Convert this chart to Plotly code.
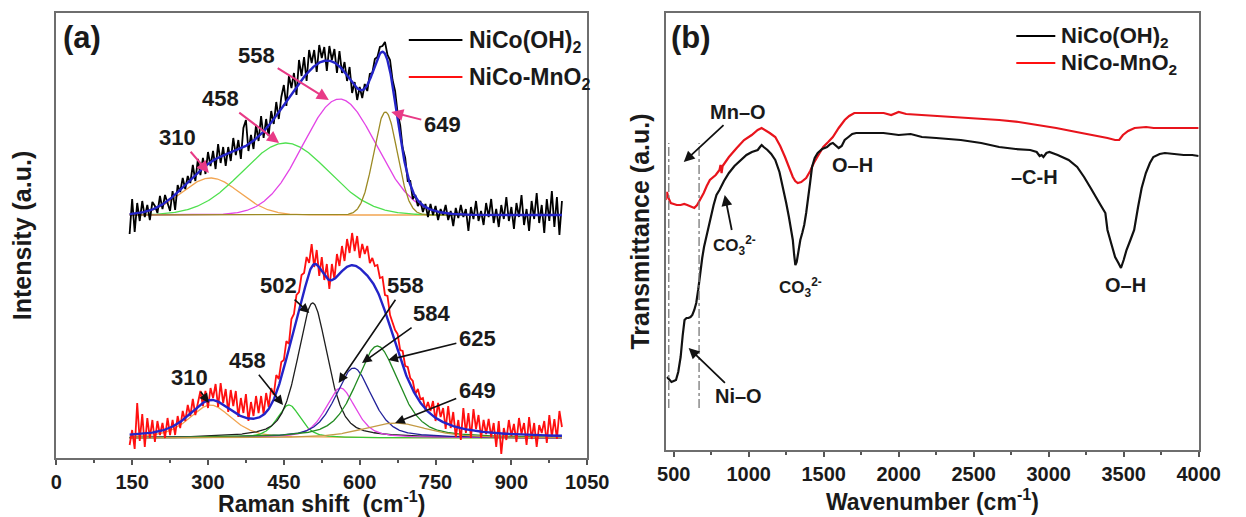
import numpy as np
import plotly.graph_objects as go

W, H = 1246, 517

# ---------------- (a) Raman data ----------------
raman_shift = list(range(145, 1001, 5))
raman_nico_oh = [
    -19, 16, -17, 12, -6, 14, -2, 10, -5, 13,
    9, 2, 19, 6, 20, 11, 4, 24, 5, 30,
    23, 37, 26, 39, 32, 50, 34, 56, 40, 57,
    41, 63, 49, 64, 46, 71, 52, 68, 49, 68,
    54, 77, 60, 75, 56, 87, 95, 64, 80, 66,
    90, 74, 99, 77, 96, 79, 104, 91, 113, 96,
    118, 130, 109, 139, 127, 142, 120, 155, 139, 158,
    134, 165, 152, 165, 143, 170, 157, 168, 144, 169,
    155, 166, 142, 164, 142, 153, 134, 148, 122, 133,
    115, 128, 117, 131, 124, 141, 142, 156, 158, 168,
    169, 173, 160, 155, 135, 124, 102, 90, 67, 57,
    34, 34, 16, 20, 9, 14, 3, 11, -2, 11,
    0, 9, -5, 6, 0, 10, -5, 4, -11, 7,
    -3, 10, -2, 6, -16, 8, -4, 14, -6, 4,
    -10, 12, -2, 16, -8, 6, -12, 10, -4, 18,
    -6, 8, -14, 12, -2, 20, -10, 6, -16, 14,
    -4, 22, -8, 10, -18, 16, -6, 24, -12, 18,
    -20, 14,
]
raman_nico_mno2 = [
    -7, 8, -11, 35, -3, 24, -9, 20, 0, 18,
    -4, 17, 3, 15, 0, 20, 3, 18, 3, 22,
    10, 27, 17, 33, 22, 39, 23, 37, 47, 32,
    47, 30, 50, 40, 54, 31, 55, 35, 49, 26,
    48, 32, 47, 21, 40, 25, 44, 17, 36, 22,
    42, 25, 42, 24, 45, 31, 50, 43, 63, 59,
    76, 78, 97, 94, 119, 124, 143, 146, 163, 165,
    181, 175, 194, 171, 188, 162, 181, 158, 174, 149,
    174, 159, 184, 172, 192, 177, 199, 185, 205, 187,
    202, 180, 194, 184, 192, 175, 180, 172, 173, 160,
    161, 143, 142, 123, 115, 108, 104, 88, 87, 72,
    71, 60, 57, 44, 49, 39, 40, 28, 36, 27,
    37, 17, 35, 21, 30, 9, 32, 10, 26, 1,
    18, -2, 30, 5, 25, 0, 29, 9, 23, 0,
    18, 4, 19, 1, 15, -9, 17, -16, 10, -2,
    18, 2, 14, -4, 20, 4, 15, -7, 21, -1,
    15, -9, 13, 5, 17, -5, 23, 1, 19, -1,
    27, 11,
]

# fitted peak parameters (NiCo(OH)2, Gaussian)
top_labels = ["310", "458", "558", "649"]
top_center = [305, 453, 560, 651]
top_height = [37, 72, 116, 103]
top_fwhm = [135, 200, 170, 55]
top_colors = ["#f2a552", "#4fe04f", "#e345e6", "#9c8a24"]

# fitted peak parameters (NiCo-MnO2, pseudo-Voigt)
bot_labels = ["310", "458", "502", "558", "584", "625", "649"]
bot_center = [305, 460, 507, 562, 588, 635, 670]
bot_height = [33, 33, 135, 50, 70, 92, 15]
bot_fwhm = [100, 55, 70, 70, 85, 100, 150]
bot_colors = ["#f2a552", "#36c836", "#1e1e1e", "#e345e6", "#22229a", "#228b22", "#c49a45"]

# ---------------- (b) FTIR data ----------------
ftir_oh_wn = [455, 470, 485, 500, 515, 530, 546, 560, 572, 585, 598, 612, 624, 637, 650, 663, 676,
              690, 702, 715, 728, 745, 766, 785, 805, 835, 868, 905, 945, 985, 1021, 1060, 1075,
              1086, 1100, 1125, 1150, 1177, 1205, 1229, 1250, 1268, 1282, 1294, 1303, 1311, 1320,
              1332, 1344, 1357, 1370, 1383, 1396, 1409, 1422, 1440, 1460, 1490, 1522, 1545, 1561,
              1578, 1600, 1620, 1640, 1665, 1690, 1717, 1800, 1898, 1950, 2000, 2080, 2155, 2250,
              2414, 2550, 2670, 2780, 2877, 2920, 2940, 2953, 2965, 2985, 3005, 3060, 3133, 3190,
              3236, 3280, 3313, 3350, 3378, 3392, 3420, 3443, 3465, 3482, 3500, 3519, 3545, 3570,
              3596, 3620, 3648, 3675, 3698, 3740, 3775, 3850, 3900, 3957, 4000]
ftir_oh_t = [73, 70, 68, 69, 70, 78, 93, 115, 130, 132, 132, 133, 135, 140, 147, 160, 177,
             192, 203, 212, 220, 232, 245, 255, 260, 269, 277, 284, 290, 295, 298, 300, 303,
             305, 303, 300, 296, 290, 278, 263, 247, 233, 220, 210, 195, 185, 188,
             200, 210, 217, 225, 237, 250, 267, 283, 292, 297, 301, 303, 306, 307,
             305, 302, 304, 310, 313, 316, 317, 317, 317, 316, 315, 316, 313, 312,
             310, 307, 303, 301, 300, 298, 294, 295, 293, 297, 298, 295, 290, 283,
             273, 262, 253, 244, 237, 220, 205, 193, 187, 182, 190, 200, 210, 220,
             243, 262, 277, 287, 293, 296, 297, 296, 295, 295, 294]
ftir_mno2_wn = [448, 455, 465, 480, 500, 520, 546, 570, 590, 610, 637, 656, 676, 700, 720, 741,
                780, 805, 812, 819, 826, 868, 920, 969, 1020, 1060, 1086, 1110, 1140, 1177, 1210,
                1242, 1270, 1294, 1310, 1327, 1350, 1383, 1410, 1434, 1465, 1497, 1530, 1561,
                1600, 1640, 1670, 1704, 1800, 1900, 1950, 2000, 2050, 2155, 2300, 2414, 2550,
                2670, 2800, 2929, 3050, 3185, 3300, 3392, 3443, 3470, 3495, 3530, 3573, 3650,
                3700, 3800, 3900, 4000]
ftir_mno2_t = [250, 258, 252, 247, 246, 245, 245, 246, 245, 244, 242, 245, 250, 257, 264, 270,
               275, 280, 285, 277, 284, 293, 302, 310, 315, 320, 322, 320, 317, 313, 304,
               293, 282, 273, 269, 267, 268, 272, 279, 287, 295, 303, 308, 313,
               322, 330, 334, 337, 337, 337, 335, 338, 336, 335, 334, 333, 331,
               330, 328, 325, 322, 318, 315, 312, 310, 310, 315, 319, 322, 323,
               322, 322, 322, 322]

# ---------------- helpers ----------------
FONT = "Liberation Sans, Arial, sans-serif"
TXT = "#1a1a1a"
top_offset = 243   # vertical stacking offsets of the two Raman spectra
bot_offset = 20


def gauss(x, c, h, w):
    return h * np.exp(-4 * np.log(2) * ((x - c) / w) ** 2)


def pvoigt(x, c, h, w, eta=0.5):
    u = (x - c) / (w / 2)
    return h * ((1 - eta) * np.exp(-np.log(2) * u ** 2) + eta / (1 + u ** 2))


def px(xp):
    return xp / W


def py(yp):
    return 1 - yp / H


fig = go.Figure()
xf = np.linspace(145, 1000, 856)

# components
top_comp = [gauss(xf, c, h, w) for c, h, w in zip(top_center, top_height, top_fwhm)]
bot_comp = [pvoigt(xf, c, h, w) for c, h, w in zip(bot_center, bot_height, bot_fwhm)]
for comp, col in zip(top_comp, top_colors):
    fig.add_trace(go.Scatter(x=xf, y=comp + top_offset, mode="lines",
                             line=dict(color=col, width=1.3), showlegend=False,
                             xaxis="x", yaxis="y", hoverinfo="skip"))
for comp, col in zip(bot_comp, bot_colors):
    fig.add_trace(go.Scatter(x=xf, y=comp + bot_offset, mode="lines",
                             line=dict(color=col, width=1.3), showlegend=False,
                             xaxis="x", yaxis="y", hoverinfo="skip"))

# measured spectra
fig.add_trace(go.Scatter(x=raman_shift, y=np.array(raman_nico_oh) + top_offset, mode="lines",
                         name="NiCo(OH)<sub>2</sub>", line=dict(color="#000000", width=1.8),
                         showlegend=False, xaxis="x", yaxis="y"))
fig.add_trace(go.Scatter(x=raman_shift, y=np.array(raman_nico_mno2) + bot_offset, mode="lines",
                         name="NiCo-MnO<sub>2</sub>", line=dict(color="#ff1010", width=1.8),
                         showlegend=False, xaxis="x", yaxis="y"))
# envelopes
fig.add_trace(go.Scatter(x=xf, y=sum(top_comp) + top_offset, mode="lines",
                         line=dict(color="#2424c8", width=2.4), showlegend=False,
                         xaxis="x", yaxis="y", hoverinfo="skip"))
fig.add_trace(go.Scatter(x=xf, y=sum(bot_comp) + bot_offset, mode="lines",
                         line=dict(color="#2424c8", width=2.4), showlegend=False,
                         xaxis="x", yaxis="y", hoverinfo="skip"))

# FTIR
fig.add_trace(go.Scatter(x=ftir_mno2_wn, y=ftir_mno2_t, mode="lines", name="NiCo-MnO<sub>2</sub>",
                         line=dict(color="#e8141c", width=2.2), showlegend=False,
                         xaxis="x2", yaxis="y2"))
fig.add_trace(go.Scatter(x=ftir_oh_wn, y=ftir_oh_t, mode="lines", name="NiCo(OH)<sub>2</sub>",
                         line=dict(color="#111111", width=2.2), showlegend=False,
                         xaxis="x2", yaxis="y2"))

axis_common = dict(showline=True, mirror=True, linecolor="#6e6e6e", linewidth=2,
                   showgrid=False, zeroline=False, tickcolor="#555",
                   tickwidth=1.5, ticklen=5,
                   tickfont=dict(family=FONT, size=20, color=TXT, weight="bold"))
xtitle_font = dict(family=FONT, size=23, color=TXT, weight="bold")
ytitle_font = dict(family=FONT, size=25, color=TXT, weight="bold")

fig.update_layout(
    width=W, height=H, margin=dict(l=0, r=0, t=0, b=0),
    paper_bgcolor="white", plot_bgcolor="white",
    xaxis=dict(domain=[px(48.5), px(593)], range=[0, 1050], tickvals=list(range(0, 1051, 150)),
               ticks="outside",
               minor=dict(ticks="outside", ticklen=3, dtick=75, tickcolor="#555"),
               title=dict(text="Raman shift  (cm<sup>-1</sup>)", standoff=7, font=xtitle_font),
               anchor="y", **axis_common),
    yaxis=dict(domain=[py(458), py(13)], range=[0, 445], showticklabels=False, ticks="",
               tickvals=[],
               title=dict(text="Intensity (a.u.)", standoff=16, font=ytitle_font),
               anchor="x", **axis_common),
    xaxis2=dict(domain=[px(674), px(1220)], range=[450, 4000], tickvals=list(range(500, 4001, 500)),
                ticks="outside",
                minor=dict(ticks="outside", ticklen=3, dtick=250, tick0=0, tickcolor="#555"),
                title=dict(text="Wavenumber (cm<sup>-1</sup>)", standoff=7, font=xtitle_font),
                anchor="y2", **axis_common),
    yaxis2=dict(domain=[py(450), py(13)], range=[0, 437], showticklabels=False, ticks="",
                tickvals=[],
                title=dict(text="Transmittance (a.u.)", standoff=7, font=ytitle_font),
                anchor="x2", **axis_common),
)

ann = []


def label(text, x, y, size=22, anchor="center", head=None, color="#111111", width=1.6):
    a = dict(text=text, xref="paper", yref="paper", xanchor=anchor, yanchor="middle",
             font=dict(family=FONT, size=size, color=TXT, weight="bold"))
    if head is None:
        a.update(x=px(x), y=py(y), showarrow=False)
    else:
        # text sits at (x, y); arrow runs from the text toward the head point
        a.update(x=px(head[0]), y=py(head[1]), ax=x - head[0], ay=y - head[1],
                 axref="pixel", ayref="pixel", showarrow=True, arrowhead=2, arrowsize=1.2,
                 arrowwidth=width, arrowcolor=color, standoff=0, startstandoff=1)
    ann.append(a)


# panel (a)
label("(a)", 75, 38, size=31)
top_label_pos = [(174, 137), (218, 98), (256, 55), (443, 125)]
top_heads = [(205, 173), (277, 143), (328, 100), (392, 112)]
for t, p, hd in zip(top_labels, top_label_pos, top_heads):
    label(t, *p, head=hd, color="#e83a86", width=2)
bot_label_pos = [(186, 377), (245, 360), (277, 285), (405, 285), (432, 313), (478, 338), (478, 390)]
bot_heads = [(205, 403), (281, 405), (308, 313), (338, 383), (362, 363), (389, 360), (396, 423)]
for t, p, hd in zip(bot_labels, bot_label_pos, bot_heads):
    label(t, *p, head=hd)

# panel (b)
label("(b)", 699, 38, size=31)
label("Mn–O", 746, 112, size=20, head=(692, 162), width=1.8)
label("CO<sub>3</sub><sup>2-</sup>", 744, 245, size=17, head=(734, 195), width=1.8)
label("CO<sub>3</sub><sup>2-</sup>", 812, 287, size=17)
label("O–H", 865, 165, size=20)
label("–C-H", 1052, 177, size=20)
label("O–H", 1145, 285, size=20)
label("Ni–O", 747, 396, size=20, head=(697, 348), width=1.8)

# legends (line samples + text)
shapes = []
legend_items = [("NiCo(OH)<sub>2</sub>", "#000000"), ("NiCo-MnO<sub>2</sub>", "#ff1010")]
for (txt, col), yy in zip(legend_items, (40, 77)):
    shapes.append(dict(type="line", xref="paper", yref="paper", x0=px(410), x1=px(465),
                       y0=py(yy), y1=py(yy), line=dict(color=col, width=2)))
    label(txt, 470, yy + 1, size=23, anchor="left")
for (txt, col), yy in zip(legend_items, (36, 63)):
    shapes.append(dict(type="line", xref="paper", yref="paper", x0=px(1033), x1=px(1073),
                       y0=py(yy), y1=py(yy), line=dict(color=col, width=2)))
    label(txt, 1077, yy + 1, size=22, anchor="left")

# dashed marker lines (panel b)
for wn in (467, 669):
    shapes.append(dict(type="line", xref="x2", yref="y2", x0=wn, x1=wn, y0=42, y1=307,
                       line=dict(color="#777777", width=1.3, dash="dashdot")))

fig.update_layout(annotations=ann, shapes=shapes)
fig.write_html("out.html")
